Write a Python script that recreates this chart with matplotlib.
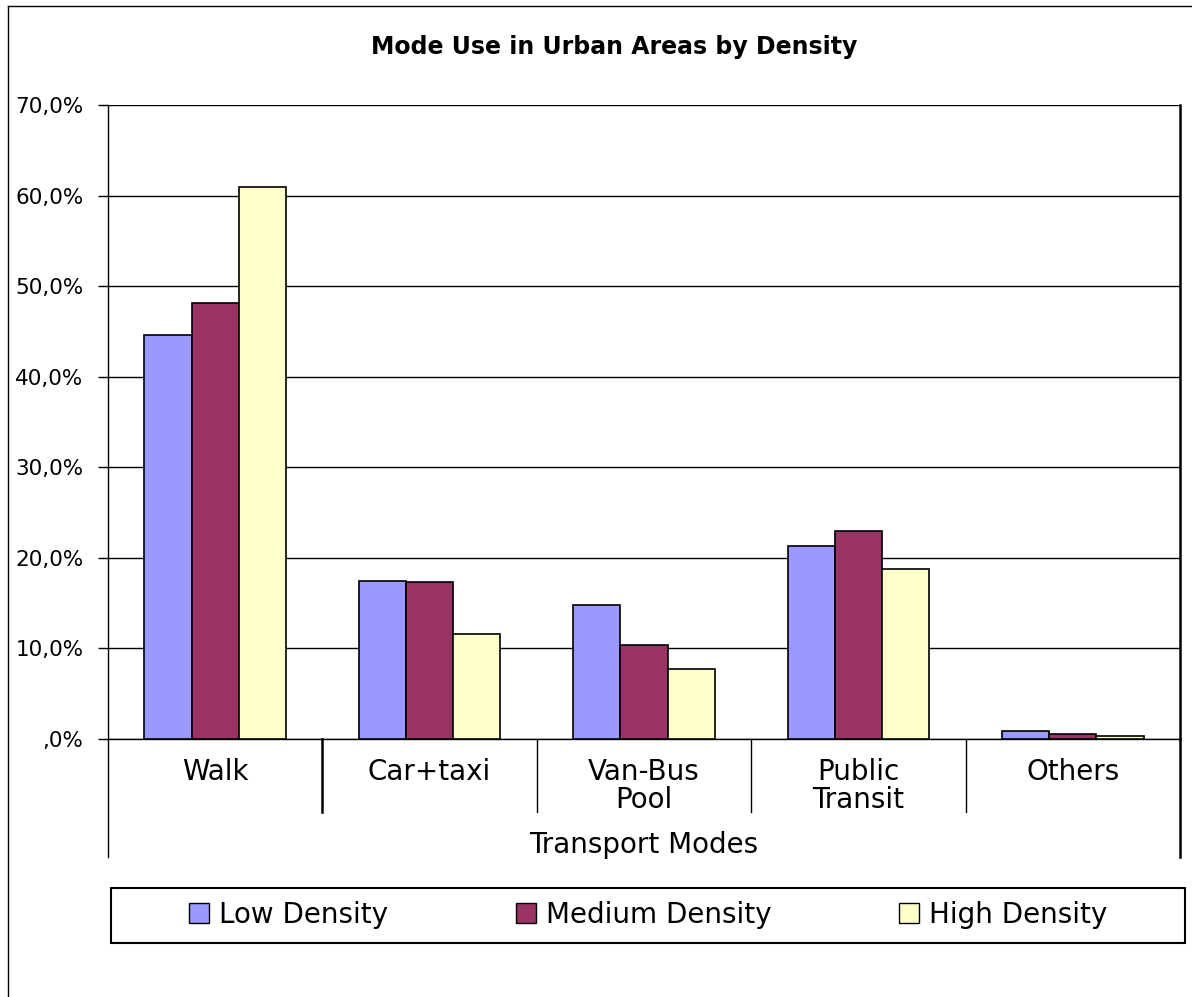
import numpy as np
import matplotlib
matplotlib.use("Agg")
import matplotlib.pyplot as plt
from matplotlib.lines import Line2D
from matplotlib.patches import Rectangle, Patch
from matplotlib.ticker import FuncFormatter

# data (percent)
modes = ["Walk", "Car+taxi", "Van-Bus\nPool", "Public\nTransit", "Others"]
low = [44.6, 17.5, 14.8, 21.3, 0.9]
medium = [48.1, 17.3, 10.4, 23.0, 0.5]
high = [61.0, 11.6, 7.7, 18.8, 0.35]
series = ["Low Density", "Medium Density", "High Density"]
colors = ["#9999FF", "#993366", "#FFFFCC"]

plt.rcParams["font.family"] = "DejaVu Sans"

W, H = 1192, 997
fig = plt.figure(figsize=(W / 100, H / 100), dpi=100)
ax = fig.add_axes([108 / W, 1 - 739 / H, 1072 / W, 634 / H])

x = np.arange(len(modes))
bw = 0.22
for i, (vals, c) in enumerate(zip([low, medium, high], colors)):
    ax.bar(x + (i - 1) * bw, vals, bw, color=c, edgecolor="black", linewidth=1.2, zorder=3)

ax.set_xlim(-0.5, len(modes) - 0.5)
ax.set_ylim(0, 70)
ax.set_yticks(np.arange(0, 71, 10))
ax.yaxis.set_major_formatter(FuncFormatter(lambda v, p: ("%.1f%%" % v).replace(".", ",") if v else ",0%"))
ax.grid(axis="y", color="black", linewidth=1, zorder=0)
ax.spines["top"].set_visible(False)
for s in ["left", "right", "bottom"]:
    ax.spines[s].set_color("black")
    ax.spines[s].set_linewidth(1)
ax.spines["right"].set_linewidth(1.8)
ax.tick_params(axis="y", length=7.2, width=1, pad=10.5, labelsize=15.5)
ax.set_xticks(x, modes)
ax.tick_params(axis="x", length=0, pad=14, labelsize=20)
for lbl in ax.get_xticklabels():
    lbl.set_linespacing(1.0)

# category separators and extended frame below the axis
xt = ax.get_xaxis_transform()
for i, sx in enumerate(x[:-1] + 0.5):
    ax.plot([sx, sx], [0, -0.115], transform=xt, clip_on=False, color="black",
            lw=1.8 if i == 0 else 1)
for sx, lw in [(0, 1), (1, 1.8)]:
    ax.plot([sx, sx], [0, -0.186], transform=ax.transAxes, clip_on=False, color="black", lw=lw)

ax.text(0.5, -0.167, "Transport Modes", transform=ax.transAxes, ha="center", va="center", fontsize=20)
fig.text(614 / W, 1 - 47 / H, "Mode Use in Urban Areas by Density", ha="center", va="center",
         fontsize=17, fontweight="bold")

handles = [Patch(facecolor=c, edgecolor="black", label=n) for c, n in zip(colors, series)]
fig.legend(handles=handles, loc="center", bbox_to_anchor=(648 / W, 1 - 915 / H), ncol=3, frameon=False,
           fontsize=20, handlelength=0.72, handleheight=0.72, handletextpad=0.36, columnspacing=4.6)
fig.add_artist(Rectangle((111 / W, 1 - 943 / H), 1074 / W, 55 / H, transform=fig.transFigure,
                         fill=False, edgecolor="black", lw=1.5))

# outer chart border (left and top)
fig.add_artist(Line2D([8 / W, 8 / W], [0, 1 - 6 / H], transform=fig.transFigure, color="black", lw=1))
fig.add_artist(Line2D([8 / W, 1], [1 - 6 / H, 1 - 6 / H], transform=fig.transFigure, color="black", lw=1))

fig.savefig("out.png", dpi=100)
